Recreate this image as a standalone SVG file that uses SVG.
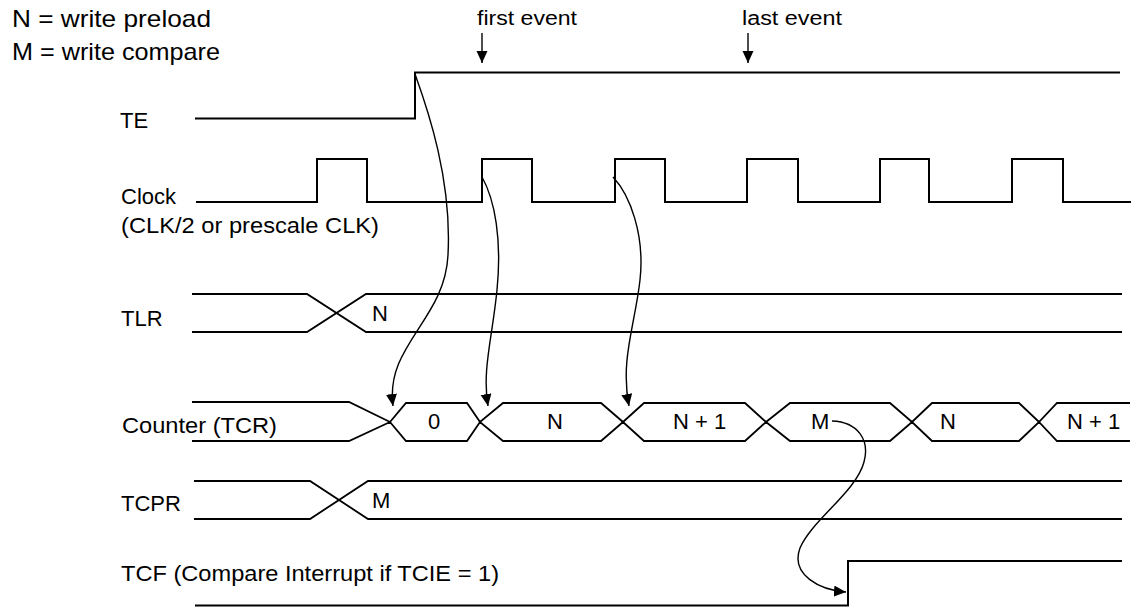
<svg xmlns="http://www.w3.org/2000/svg" width="1137" height="607" viewBox="0 0 1137 607">
<style>
text{font-family:"Liberation Sans",Arial,Helvetica,sans-serif;fill:#000}
.lbl{font-size:22px}
.leg{font-size:24px}
.ev{font-size:20px}
.w{fill:none;stroke:#000;stroke-width:2;stroke-linejoin:miter}
.bus{fill:none;stroke:#000;stroke-width:1.8;stroke-linejoin:miter}
.arc{fill:none;stroke:#000;stroke-width:1.4}
</style>
<defs>
<marker id="ah" markerUnits="userSpaceOnUse" markerWidth="13" markerHeight="12" refX="12" refY="5.5" orient="auto">
<path d="M0,0 L12,5.5 L0,11 z" fill="#000"/>
</marker>
</defs>
<rect width="1137" height="607" fill="#fff"/>
<g id="legend">
<text class="leg" x="12" y="27" textLength="199" lengthAdjust="spacingAndGlyphs">N = write preload</text>
<text class="leg" x="12" y="60" textLength="208" lengthAdjust="spacingAndGlyphs">M = write compare</text>
</g>
<g id="first-event">
<text class="ev" x="477" y="25" textLength="100" lengthAdjust="spacingAndGlyphs">first event</text>
</g>
<g id="last-event">
<text class="ev" x="742" y="25" textLength="100" lengthAdjust="spacingAndGlyphs">last event</text>
</g>
<g id="te">
<text class="lbl" x="120" y="128">TE</text>
<path class="w" d="M195,118.5 L415,118.5 L415,72.5 L1120,72.5"/>
</g>
<g id="clock">
<text class="lbl" x="121" y="204">Clock</text>
<text class="lbl" x="121" y="233" textLength="258" lengthAdjust="spacingAndGlyphs">(CLK/2 or prescale CLK)</text>
<path class="w" d="M196,202 L317,202 L317,159 L367,159 L367,202 L482,202 L482,159 L532,159 L532,202 L615,202 L615,159 L665,159 L665,202 L747,202 L747,159 L798,159 L798,202 L880,202 L880,159 L929,159 L929,202 L1012,202 L1012,159 L1063,159 L1063,202 L1131,202"/>
</g>
<g id="tlr">
<text class="lbl" x="121" y="326">TLR</text>
<path class="bus" d="M192,294 L307,294 L366,332 L1122,332"/>
<path class="bus" d="M192,332 L307,332 L366,294 L1122,294"/>
<text class="lbl" x="372" y="321">N</text>
</g>
<g id="counter">
<text class="lbl" x="122" y="433" textLength="155" lengthAdjust="spacingAndGlyphs">Counter (TCR)</text>
<path class="bus" d="M192,402 L349,402 L390,422 L406,403 L467,403 L480,422 L503,403 L601,403 L623,422 L644,403 L745,403 L766,422 L790,403 L890,403 L912,422 L932,403 L1019,403 L1039,422 L1057,403 L1130,403"/>
<path class="bus" d="M192,441 L349,441 L390,422 L406,441 L467,441 L480,422 L503,441 L601,441 L623,422 L644,441 L745,441 L766,422 L790,441 L890,441 L912,422 L932,441 L1019,441 L1039,422 L1057,441 L1130,441"/>
<text class="lbl" x="428" y="429">0</text>
<text class="lbl" x="547" y="429">N</text>
<text class="lbl" x="673" y="429">N + 1</text>
<text class="lbl" x="811" y="429">M</text>
<text class="lbl" x="940" y="429">N</text>
<text class="lbl" x="1067" y="429">N + 1</text>
</g>
<g id="tcpr">
<text class="lbl" x="121" y="511">TCPR</text>
<path class="bus" d="M194,481 L310,481 L368,519 L1122,519"/>
<path class="bus" d="M194,519 L310,519 L368,481 L1122,481"/>
<text class="lbl" x="372" y="508">M</text>
</g>
<g id="tcf">
<text class="lbl" x="121" y="581" textLength="378" lengthAdjust="spacingAndGlyphs">TCF (Compare Interrupt if TCIE = 1)</text>
<path class="w" d="M195,605.5 L848,605.5 L848,561 L1122,561"/>
</g>
<g id="connectors">
<path class="arc" marker-end="url(#ah)" d="M482,33 L482,63"/>
<path class="arc" marker-end="url(#ah)" d="M748,33 L748,63"/>
<path class="arc" marker-end="url(#ah)" d="M415,74 C428,110 452,180 448,255 C445,320 385,345 393,406"/>
<path class="arc" marker-end="url(#ah)" d="M482,177 C495,200 502,240 497,290 C492,340 482,370 488,406"/>
<path class="arc" marker-end="url(#ah)" d="M613,177 C630,195 645,235 640,280 C635,325 620,360 629,406"/>
<path class="arc" marker-end="url(#ah)" d="M832,421 C858,422 870,440 864,462 C856,492 812,520 800,548 C790,575 820,590 846,592"/>
</g>
</svg>
